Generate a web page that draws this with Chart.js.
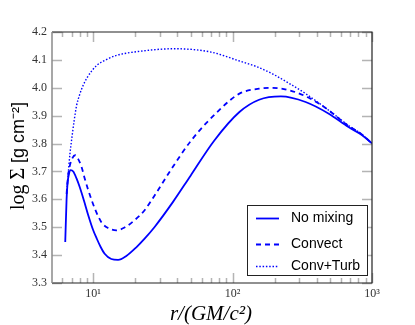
<!DOCTYPE html>
<html>
<head>
<meta charset="utf-8">
<script src="https://cdn.jsdelivr.net/npm/chart.js@4"></script>
<style>
  html, body { margin: 0; padding: 0; background: #fff; }
  #wrap { width: 415px; height: 325px; }
</style>
</head>
<body>
<div id="wrap"><canvas id="sigmaChart" width="415" height="325"></canvas></div>
<script>
// radius in GM/c^2, log Sigma in g cm^-2
const rNoMix = [6.31, 6.45, 6.55, 6.7, 6.9, 7.2, 7.6, 8.0, 8.6, 9.2, 10.0, 10.6, 11.3, 12.1, 13.5, 15.1, 17.3, 20.4, 23.4, 27.6, 37.3, 50, 74, 112, 155, 222, 334, 490, 678, 850, 1000];
const sigmaNoMix = [3.447, 3.60, 3.656, 3.69, 3.705, 3.70, 3.675, 3.645, 3.595, 3.545, 3.49, 3.46, 3.43, 3.405, 3.386, 3.383, 3.397, 3.428, 3.459, 3.501, 3.59, 3.685, 3.811, 3.913, 3.957, 3.969, 3.949, 3.907, 3.859, 3.83, 3.80];

const rConvect = [6.45, 6.6, 6.8, 7.1, 7.45, 7.8, 8.26, 8.7, 9.2, 10.3, 11.5, 12.8, 14.7, 16.8, 19.8, 23.4, 27.6, 35.3, 50.5, 82.6, 112, 155, 193, 256, 362, 490, 678, 850, 1000];
const sigmaConvect = [3.62, 3.68, 3.72, 3.748, 3.758, 3.745, 3.716, 3.675, 3.635, 3.566, 3.517, 3.497, 3.489, 3.499, 3.525, 3.561, 3.614, 3.698, 3.811, 3.926, 3.979, 3.997, 4.0, 3.991, 3.961, 3.919, 3.863, 3.832, 3.80];

const rTurb = [6.45, 6.6, 6.82, 7.0, 7.3, 7.6, 8.0, 8.5, 9.1, 10.6, 12.1, 14.7, 21, 38, 70, 112, 150, 193, 250, 334, 490, 678, 850, 1000];
const sigmaTurb = [3.62, 3.68, 3.764, 3.811, 3.88, 3.935, 3.975, 4.01, 4.038, 4.08, 4.098, 4.116, 4.13, 4.14, 4.128, 4.096, 4.075, 4.05, 4.018, 3.979, 3.919, 3.865, 3.832, 3.80];

const seriesNames = ['No mixing', 'Convect', 'Conv+Turb'];
const xTicks = [6, 7, 8, 9, 10, 20, 30, 40, 50, 60, 70, 80, 90, 100, 200, 300, 400, 500, 600, 700, 800, 900, 1000];
const xTickLabels = { 10: '10\u00B9', 100: '10\u00B2', 1000: '10\u00B3' };

const toPoints = (xs, ys) => xs.map((x, i) => ({ x: x, y: ys[i] }));

// ticks pointing inwards on all four sides, plus the frame
const frameTicks = {
    id: 'frameTicks',
    afterDraw(chart) {
        const { ctx, chartArea: a, scales } = chart;
        ctx.save();
        ctx.strokeStyle = '#b4b4b4';
        ctx.lineWidth = 1.5;
        scales.x.ticks.forEach(t => {
            const px = Math.round(scales.x.getPixelForValue(t.value)) + 0.5;
            const len = xTickLabels[t.value] ? 10 : 5;
            ctx.beginPath();
            ctx.moveTo(px, a.bottom); ctx.lineTo(px, a.bottom - len);
            ctx.moveTo(px, a.top); ctx.lineTo(px, a.top + len);
            ctx.stroke();
        });
        scales.y.ticks.forEach(t => {
            const py = Math.round(scales.y.getPixelForValue(t.value)) + 0.5;
            ctx.beginPath();
            ctx.moveTo(a.left, py); ctx.lineTo(a.left + 10, py);
            ctx.moveTo(a.right, py); ctx.lineTo(a.right - 10, py);
            ctx.stroke();
        });
        ctx.lineWidth = 1.2;
        ctx.strokeStyle = '#222';
        ctx.beginPath();
        ctx.moveTo(a.left, a.top); ctx.lineTo(a.right, a.top); ctx.lineTo(a.right, a.bottom); ctx.lineTo(a.left, a.bottom);
        ctx.stroke();
        ctx.strokeStyle = '#8a8a8a';
        ctx.lineWidth = 1.5;
        ctx.beginPath();
        ctx.moveTo(a.left, a.top); ctx.lineTo(a.left, a.bottom);
        ctx.stroke();
        ctx.restore();
    }
};

// legend box in the lower right corner
const boxLegend = {
    id: 'boxLegend',
    afterDraw(chart) {
        const { ctx } = chart;
        const x0 = 247, y0 = 205, w = 120, h = 70;
        const rows = [218, 244, 266];
        ctx.save();
        ctx.fillStyle = '#fff';
        ctx.fillRect(x0, y0, w, h);
        ctx.strokeStyle = '#222';
        ctx.lineWidth = 1;
        ctx.strokeRect(x0 + 0.5, y0 + 0.5, w, h);
        chart.data.datasets.forEach((ds, i) => {
            const y = rows[i] + 0.5;
            ctx.strokeStyle = ds.borderColor;
            ctx.lineWidth = ds.borderWidth;
            ctx.setLineDash(ds.borderDash || []);
            ctx.beginPath();
            ctx.moveTo(256, y); ctx.lineTo(279, y);
            ctx.stroke();
            ctx.setLineDash([]);
            ctx.fillStyle = '#000';
            ctx.font = '14px "Liberation Sans", Arial, sans-serif';
            ctx.textBaseline = 'middle';
            ctx.fillText(ds.label, 291, rows[i]);
        });
        ctx.restore();
    }
};

// axis titles with mixed fonts
const axisTitles = {
    id: 'axisTitles',
    afterDraw(chart) {
        const { ctx } = chart;
        ctx.save();
        ctx.fillStyle = '#000';
        ctx.textBaseline = 'middle';
        // x title
        ctx.font = 'italic 21px "Liberation Serif", "DejaVu Serif", serif';
        ctx.textAlign = 'center';
        ctx.fillText('r/(GM/c\u00B2)', 211, 314);
        // y title, rotated
        ctx.translate(19, 156);
        ctx.rotate(-Math.PI / 2);
        const part1 = 'log \u03A3 ';
        const part2 = '[g cm\u207B\u00B2]';
        const f1 = '20px "Liberation Serif", serif';
        const f2 = '18px "Liberation Sans", Arial, sans-serif';
        ctx.font = f1;
        const w1 = ctx.measureText(part1).width;
        ctx.font = f2;
        const w2 = ctx.measureText(part2).width;
        const start = -(w1 + w2) / 2;
        ctx.textAlign = 'left';
        ctx.font = f1;
        ctx.fillText(part1, start, 0);
        ctx.font = f2;
        ctx.fillText(part2, start + w1, 0);
        ctx.restore();
    }
};

const ctx = document.getElementById('sigmaChart').getContext('2d');
const sigmaChart = new Chart(ctx, {
    type: 'line',
    data: {
        datasets: [
            {
                label: seriesNames[0],
                data: toPoints(rNoMix, sigmaNoMix),
                borderColor: '#0000ff',
                borderWidth: 1.8,
                pointRadius: 0,
                cubicInterpolationMode: 'monotone',
                fill: false
            },
            {
                label: seriesNames[1],
                data: toPoints(rConvect, sigmaConvect),
                borderColor: '#0000ff',
                borderWidth: 1.8,
                borderDash: [5, 4],
                pointRadius: 0,
                cubicInterpolationMode: 'monotone',
                fill: false
            },
            {
                label: seriesNames[2],
                data: toPoints(rTurb, sigmaTurb),
                borderColor: '#0000ff',
                borderWidth: 1.4,
                borderDash: [1.5, 1.8],
                pointRadius: 0,
                cubicInterpolationMode: 'monotone',
                fill: false
            }
        ]
    },
    options: {
        responsive: false,
        animation: false,
        layout: { padding: { left: 0, right: 43, top: 32, bottom: 0 } },
        plugins: {
            legend: { display: false },
            tooltip: { enabled: false }
        },
        scales: {
            x: {
                type: 'logarithmic',
                min: 5.07,
                max: 1000,
                afterBuildTicks: s => { s.ticks = xTicks.map(v => ({ value: v })); },
                afterFit: s => { s.height = 42; },
                grid: { display: false, drawTicks: false },
                border: { display: false },
                ticks: {
                    autoSkip: false,
                    maxRotation: 0,
                    padding: 4,
                    color: '#333',
                    font: { family: '"Liberation Serif", serif', size: 12 },
                    callback: v => xTickLabels[v] || ''
                }
            },
            y: {
                min: 3.3,
                max: 4.2,
                afterFit: s => { s.width = 52; },
                grid: { display: false, drawTicks: false },
                border: { display: false },
                ticks: {
                    stepSize: 0.1,
                    padding: 5,
                    color: '#333',
                    font: { family: '"Liberation Serif", serif', size: 12 },
                    callback: v => v.toFixed(1)
                }
            }
        }
    },
    plugins: [frameTicks, boxLegend, axisTitles]
});
</script>
</body>
</html>
